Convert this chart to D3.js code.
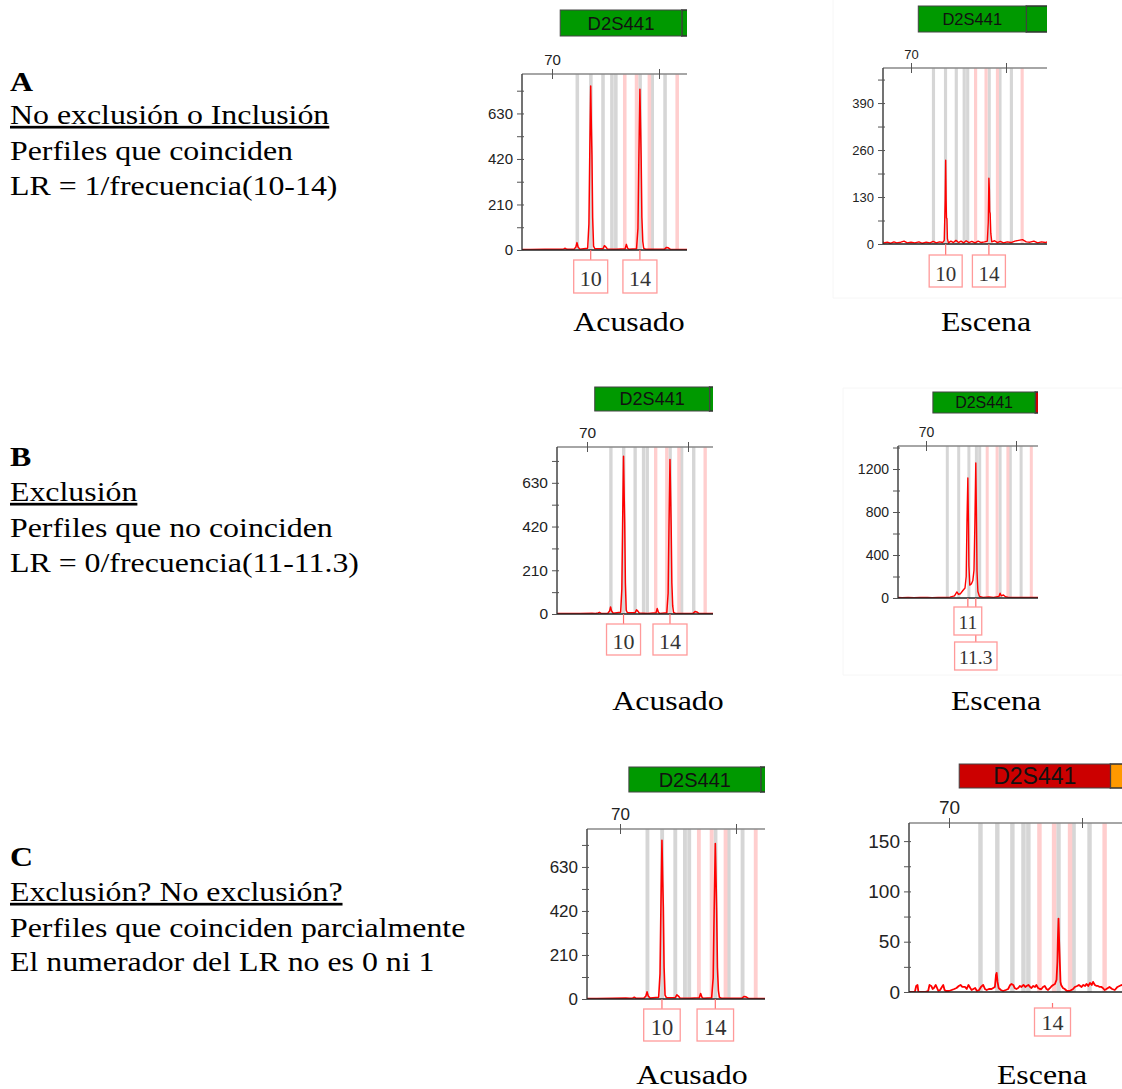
<!DOCTYPE html>
<html>
<head>
<meta charset="utf-8">
<script src="https://cdn.jsdelivr.net/npm/d3@7"></script>
<style>
  body { margin: 0; background: #fff; }
  svg { display: block; }
</style>
</head>
<body>
<svg id="fig" width="1122" height="1089"></svg>
<script>
// ---- data (x in bp, y in RFU) ----
const locusName = "D2S441";
const locusStartEnd = [72.3, 106.4];
const greyBins = [77.1, 80.9, 84.3, 86.8, 87.9, 94.7, 98.1, 101.7];
const pinkBins = [90.4, 93.7, 97.3, 105.1];
const topTicks = [70, 100];

// same reference sample shown in A, B and C
const acusadoTrace = [[60,2],[64,2],[68,3],[71.5,4],[72.5,3],[73.3,5],[73.7,8],[74.2,3],[76.2,4],[76.7,14],[77.0,34],
  [77.3,14],[77.8,4],[80.0,8],[80.35,120],[80.6,460],[80.85,757],[81.05,560],[81.2,440],[81.4,150],[81.65,18],[82.0,6],
  [84.3,6],[84.7,20],[85.1,14],[85.5,5],[88,3],[90.5,6],[90.85,26],[91.2,8],[91.6,3],[93.7,6],[94.1,100],[94.35,420],
  [94.65,742],[94.85,560],[95.0,420],[95.2,150],[95.45,40],[95.7,8],[96.3,3],[101.5,3],[102.1,12],[102.6,10],[103.2,3],
  [108,2],[114,2]];

const escenaATrace = [[60,4],[60.8,10],[61.4,3],[62.5,5],[63.5,2],[64.6,6],[65.5,3],[66.8,5],[67.8,8],[68.8,3],[70,5],
  [71.2,3],[72.5,6],[73.6,2],[74.8,5],[76,3],[77,7],[78,3],[79,6],[80,4],[80.5,10],[80.8,120],[80.95,232],[81.1,120],
  [81.2,72],[81.35,70],[81.5,15],[81.8,3],[82.6,8],[83.4,4],[84.2,10],[85,4],[85.8,8],[86.6,3],[87.4,9],[88.3,4],
  [89.2,7],[90.2,3],[91.2,8],[92.2,4],[93.2,6],[94.1,8],[94.4,60],[94.6,182],[94.75,150],[94.85,90],[95.0,84],
  [95.2,30],[95.5,6],[96.4,9],[97.3,4],[98.2,7],[99.2,3],[100.4,6],[101.6,4],[102.8,8],[104,10],[105.2,12],[106.4,6],
  [107.6,5],[108.8,8],[110,3],[111.2,6],[112.4,4],[113.5,7],[114.5,4]];

const escenaBTrace = [[60,6],[62,3],[64,5],[66,2],[68,4],[70.5,6],[72,3],[74,5],[76,4],[78,8],[79.5,20],[80.3,56],
  [80.8,35],[81.5,40],[82.3,70],[83.0,93],[83.4,200],[83.65,700],[83.95,1116],[84.15,700],[84.3,300],[84.6,120],
  [85.1,130],[85.6,160],[86.0,260],[86.3,700],[86.6,1256],[86.8,800],[87.0,250],[87.3,60],[87.8,15],[89,6],[91,10],
  [92.5,6],[94.3,15],[94.7,45],[95.1,20],[95.8,28],[96.5,12],[97.5,6],[100,4],[104,6],[108,4]];

const escenaCTrace = [[60,0],[61.2,0],[62.3,0],[62.6,6],[62.9,7],[63.1,0],[64.5,0],[65.3,1],[65.6,7],[66.0,6],[66.3,3],
  [66.6,4],[67.0,7],[67.2,5],[67.6,1],[68.0,2],[68.4,5],[68.7,7],[69.0,2],[69.3,1],[70.0,1],[70.6,2],[71.2,3],[71.7,4],
  [72.2,6],[72.6,7],[73.0,5],[73.6,5],[74.0,3],[74.4,7],[74.8,4],[75.1,2],[75.5,3],[75.9,4],[76.3,1],[76.8,2],[77.2,5],
  [77.7,7],[78.1,3],[78.5,2],[79.0,3],[79.6,3],[80.35,5],[80.6,17],[80.75,19],[80.95,10],[81.2,4],[81.7,2],[82.2,1],
  [82.8,2],[83.35,3],[83.8,7],[84.1,8],[84.5,7],[84.8,4],[85.2,3],[85.6,4],[86.0,6],[86.35,5],[86.8,7],[87.2,5],
  [87.5,6],[87.9,7],[88.3,5],[88.6,4],[89.0,6],[89.4,5],[89.7,7],[90.1,4],[90.5,3],[90.85,3],[91.2,5],[91.6,6],
  [92.0,3],[92.35,2],[92.8,4],[93.2,6],[93.5,7],[93.9,8],[94.25,12],[94.45,30],[94.55,52],[94.7,73],[94.85,50],
  [95.0,30],[95.15,10],[95.3,7],[95.7,4],[96.1,3],[96.6,1],[97.2,1],[97.6,2],[98.0,3],[98.4,5],[98.9,6],[99.3,7],
  [99.9,5],[100.3,7],[100.7,6],[101.0,8],[101.4,6],[101.8,9],[102.2,7],[102.5,10],[102.9,7],[103.3,6],[103.6,6],
  [104.0,5],[104.4,5],[104.7,4],[105.1,2],[105.5,3],[106.2,5],[106.8,3],[107.4,2],[108.0,5],[108.9,7],[110,4]];

const acusadoYTicks = [0, 210, 420, 630];
const escenaAYTicks = [0, 130, 260, 390];
const escenaBYTicks = [0, 400, 800, 1200];
const escenaCYTicks = [0, 50, 100, 150];

const acusadoAlleles = ["10", "14"];
const acusadoAlleleBp = [80.85, 94.65];
const escenaAAlleles = ["10", "14"];
const escenaAAlleleBp = [80.95, 94.6];
const escenaBAlleles = ["11", "11.3"];
const escenaBAlleleBp = [83.95, 86.6];
const escenaCAlleles = ["14"];
const escenaCAlleleBp = [94.7];

const caseLetters = ["A", "B", "C"];
const caseTitles = ["No exclusión o Inclusión", "Exclusión", "Exclusión? No exclusión?"];
const caseLine2 = ["Perfiles que coinciden", "Perfiles que no coinciden", "Perfiles que coinciden parcialmente"];
const caseLine3 = ["LR = 1/frecuencia(10-14)", "LR = 0/frecuencia(11-11.3)", "El numerador del LR no es 0 ni 1"];
const captions = ["Acusado", "Escena"];

// ---- layout ----
const green = "#009900", red = "#cc0000", orange = "#ff9900";
const serif = "'Liberation Serif', 'Times New Roman', serif";
const sans = "'Liberation Sans', Arial, sans-serif";
const stretch = 1.18;

const panels = [
  {trace: acusadoTrace, yTicks: acusadoYTicks, alleles: acusadoAlleles, alleleBp: acusadoAlleleBp, caption: captions[0],
   fill: green, nextFill: green, left: 522, top: 74, right: 687, bottom: 250, x70: 552, x100: 659, yMax: 812,
   barY: 10, barH: 26, tickFs: 15, barFs: 18.5, boxFs: 22, boxGap: 10, boxH: 33, boxPad: 6, capX: 629, capY: 331, sw: 1.5},
  {trace: escenaATrace, yTicks: escenaAYTicks, alleles: escenaAAlleles, alleleBp: escenaAAlleleBp, caption: captions[1],
   fill: green, nextFill: green, left: 883, top: 68, right: 1047, bottom: 244, x70: 911, x100: 1006, yMax: 487,
   barY: 6, barH: 26, tickFs: 13, barFs: 16.5, boxFs: 21, boxGap: 11, boxH: 32, boxPad: 6, capX: 986, capY: 331, sw: 1.4,
   frame: [833, -2, 300, 300]},
  {trace: acusadoTrace, yTicks: acusadoYTicks, alleles: acusadoAlleles, alleleBp: acusadoAlleleBp, caption: captions[0],
   fill: green, nextFill: green, left: 557, top: 447, right: 713, bottom: 614, x70: 587, x100: 688, yMax: 802,
   barY: 387, barH: 24, tickFs: 15.5, barFs: 18, boxFs: 22, boxGap: 10, boxH: 31, boxPad: 6, capX: 668, capY: 710, sw: 1.5},
  {trace: escenaBTrace, yTicks: escenaBYTicks, alleles: escenaBAlleles, alleleBp: escenaBAlleleBp, caption: captions[1],
   fill: green, nextFill: red, left: 898, top: 446, right: 1038, bottom: 598, x70: 926, x100: 1016, yMax: 1414,
   barY: 392, barH: 21, tickFs: 14, barFs: 16, boxFs: 19.5, boxGap: 9, boxH: 28, boxPad: 4.5, rows: [0, 1], rowPitch: 35,
   capX: 996, capY: 710, sw: 1.4, frame: [843, 388, 290, 287]},
  {trace: acusadoTrace, yTicks: acusadoYTicks, alleles: acusadoAlleles, alleleBp: acusadoAlleleBp, caption: captions[0],
   fill: green, nextFill: green, left: 587, top: 829, right: 765, bottom: 999, x70: 620, x100: 736, yMax: 811,
   barY: 767, barH: 25, tickFs: 17, barFs: 20, boxFs: 22.5, boxGap: 10, boxH: 32, boxPad: 7, capX: 692, capY: 1084, sw: 1.6},
  {trace: escenaCTrace, yTicks: escenaCYTicks, alleles: escenaCAlleles, alleleBp: escenaCAlleleBp, caption: captions[1],
   fill: red, nextFill: orange, left: 909, top: 823, right: 1122, bottom: 992, x70: 949, x100: 1082, yMax: 168,
   barY: 764, barH: 24, tickFs: 19, barFs: 23, boxFs: 22, boxGap: 16, boxH: 28, boxPad: 7, connStart: 11, labelShift: -6,
   capX: 1042, capY: 1084, sw: 1.8}
];

const caseRows = [[91, 124, 160, 195], [466, 501, 537, 572], [866, 901, 937, 971]];

const svg = d3.select("#fig");
svg.append("rect").attr("width", 1122).attr("height", 1089).attr("fill", "#fff");
const defs = svg.append("defs");

// left-hand explanatory text
caseLetters.forEach((letter, i) => {
  const lines = [letter, caseTitles[i], caseLine2[i], caseLine3[i]];
  lines.forEach((txt, j) => {
    const t = svg.append("text")
      .attr("transform", `translate(10,${caseRows[i][j]}) scale(${stretch},1)`)
      .attr("font-family", serif)
      .attr("font-size", 27)
      .attr("fill", "#000")
      .text(txt);
    if (j === 0) t.attr("font-weight", "bold");
    if (j === 1) t.attr("text-decoration", "underline");
  });
});

function drawPanel(p, idx) {
  const g = svg.append("g");
  const x = d3.scaleLinear().domain([70, 100]).range([p.x70, p.x100]);
  const y = d3.scaleLinear().domain([0, p.yMax]).range([p.bottom, p.top]);

  if (p.frame) {
    const [fx, fy, fw, fh] = p.frame;
    g.append("path")
      .attr("d", `M${fx},${fy}V${fy + fh}H${fx + fw}M${fx},${fy}H${fx + fw}`)
      .attr("fill", "none").attr("stroke", "#f6f6f6");
  }

  const clipId = "plotclip" + idx;
  defs.append("clipPath").attr("id", clipId).append("rect")
    .attr("x", p.left).attr("y", p.top - 1)
    .attr("width", p.right - p.left).attr("height", p.bottom - p.top + 1);
  const barClip = "barclip" + idx;
  defs.append("clipPath").attr("id", barClip).append("rect")
    .attr("x", 0).attr("y", p.barY - 3).attr("width", p.right).attr("height", p.barH + 6);

  // locus bar
  const bar = g.append("g").attr("clip-path", `url(#${barClip})`);
  bar.append("rect")
    .attr("x", x(locusStartEnd[1])).attr("y", p.barY)
    .attr("width", p.right - x(locusStartEnd[1]) + 5).attr("height", p.barH)
    .attr("fill", p.nextFill).attr("stroke", "#333").attr("stroke-width", 1.5);
  bar.append("rect")
    .attr("x", x(locusStartEnd[0])).attr("y", p.barY)
    .attr("width", x(locusStartEnd[1]) - x(locusStartEnd[0])).attr("height", p.barH)
    .attr("fill", p.fill).attr("stroke", "#444").attr("stroke-width", 1);
  bar.append("text")
    .attr("x", (x(locusStartEnd[0]) + x(locusStartEnd[1])) / 2)
    .attr("y", p.barY + p.barH / 2)
    .attr("dy", "0.36em")
    .attr("text-anchor", "middle")
    .attr("font-family", sans).attr("font-size", p.barFs).attr("fill", "#111")
    .text(locusName);

  // bins and trace
  const plot = g.append("g").attr("clip-path", `url(#${clipId})`);
  plot.selectAll("rect.grey").data(greyBins).join("rect").attr("class", "grey")
    .attr("x", d => x(d - 0.5)).attr("y", p.top)
    .attr("width", d => x(d + 0.5) - x(d - 0.5)).attr("height", p.bottom - p.top)
    .attr("fill", "#d6d6d6");
  plot.selectAll("rect.pink").data(pinkBins).join("rect").attr("class", "pink")
    .attr("x", d => x(d - 0.5)).attr("y", p.top)
    .attr("width", d => x(d + 0.5) - x(d - 0.5)).attr("height", p.bottom - p.top)
    .attr("fill", "#ffcece");
  plot.append("path").datum(p.trace)
    .attr("d", d3.line().x(d => x(d[0])).y(d => y(d[1])))
    .attr("fill", "none").attr("stroke", "#ff0000")
    .attr("stroke-width", p.sw).attr("stroke-linejoin", "round");

  // frame
  g.append("line").attr("x1", p.left).attr("x2", p.right).attr("y1", p.top).attr("y2", p.top)
    .attr("stroke", "#888").attr("stroke-width", 1.6);
  g.append("line").attr("x1", p.left).attr("x2", p.left).attr("y1", p.top).attr("y2", p.bottom)
    .attr("stroke", "#444").attr("stroke-width", 1.5);
  g.append("line").attr("x1", p.left).attr("x2", p.right).attr("y1", p.bottom).attr("y2", p.bottom)
    .attr("stroke", "#222").attr("stroke-width", 1.6);

  // y axis with minor ticks at half steps
  const step = p.yTicks[1] - p.yTicks[0];
  const allTicks = d3.range(0, p.yMax, step / 2);
  const ya = g.append("g").attr("transform", `translate(${p.left + 2},0)`)
    .call(d3.axisLeft(y).tickValues(allTicks).tickSize(7).tickPadding(4)
      .tickFormat(d => p.yTicks.includes(d) ? d : ""));
  ya.select(".domain").remove();
  ya.selectAll("line").attr("stroke", "#555");
  ya.selectAll("text").attr("font-family", sans).attr("font-size", p.tickFs).attr("fill", "#222");

  // top size axis
  const xa = g.append("g").attr("transform", `translate(0,${p.top + 5})`)
    .call(d3.axisTop(x).tickValues(topTicks).tickSize(10).tickPadding(4)
      .tickFormat(d => d === 70 ? d : ""));
  xa.select(".domain").remove();
  xa.selectAll("line").attr("stroke", "#555");
  xa.selectAll("text").attr("font-family", sans).attr("font-size", p.tickFs).attr("fill", "#222");

  // allele call boxes
  const shift = p.labelShift || 0;
  const labels = p.alleles.map((a, i) => ({text: a, bp: p.alleleBp[i], row: p.rows ? p.rows[i] : 0}));
  const boxTop = d => p.bottom + p.boxGap + d.row * (p.rowPitch || 0);
  g.selectAll("line.conn").data(labels).join("line").attr("class", "conn")
    .attr("x1", d => x(d.bp) + shift).attr("x2", d => x(d.bp) + shift)
    .attr("y1", p.bottom + (p.connStart || 0)).attr("y2", boxTop)
    .attr("stroke", "#ff7070").attr("stroke-width", 1.2);
  labels.forEach(d => {
    const cx = x(d.bp) + shift;
    const top = boxTop(d);
    const lg = g.append("g");
    const t = lg.append("text")
      .attr("x", cx).attr("y", top + p.boxH * 0.8)
      .attr("text-anchor", "middle")
      .attr("font-family", serif).attr("font-size", p.boxFs).attr("fill", "#333")
      .text(d.text);
    const w = t.node().getComputedTextLength() + 2 * p.boxPad;
    lg.insert("rect", "text")
      .attr("x", cx - w / 2).attr("y", top).attr("width", w).attr("height", p.boxH)
      .attr("fill", "#fff").attr("stroke", "#ff9a9a").attr("stroke-width", 1.3);
  });

  // caption under the panel
  g.append("text")
    .attr("transform", `translate(${p.capX},${p.capY}) scale(${stretch},1)`)
    .attr("text-anchor", "middle")
    .attr("font-family", serif).attr("font-size", 27).attr("fill", "#000")
    .text(p.caption);
}

panels.forEach(drawPanel);
</script>
</body>
</html>
